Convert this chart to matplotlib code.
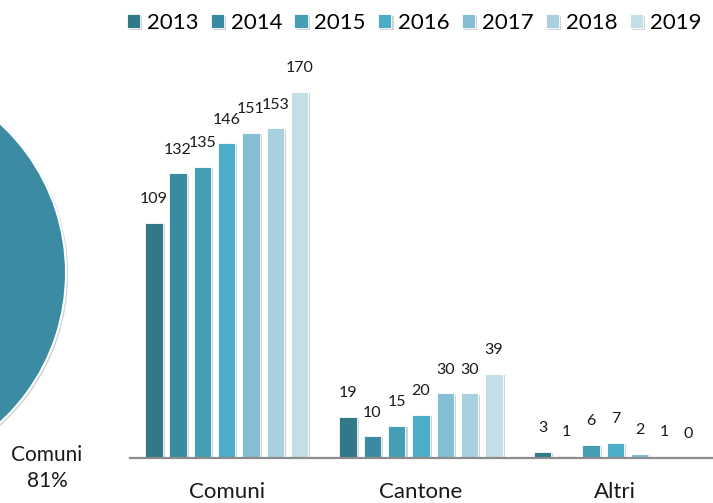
import numpy as np
import matplotlib
matplotlib.use('Agg')
import matplotlib.pyplot as plt
import matplotlib.patheffects as pe

plt.rcParams['font.family'] = ['Lato', 'DejaVu Sans']

# dati
anni = ['2013', '2014', '2015', '2016', '2017', '2018', '2019']
categorie = ['Comuni', 'Cantone', 'Altri']
comuni = [109, 132, 135, 146, 151, 153, 170]
cantone = [19, 10, 15, 20, 30, 30, 39]
altri = [3, 1, 6, 7, 2, 1, 0]

colori = ['#317888', '#3a8ba1', '#459eb5', '#4badc8', '#85bfd3', '#a9d0df', '#c4dee8']
colore_torta = '#3b8ca2'

fig = plt.figure(figsize=(7.13, 5.03), dpi=100)

ombra = [pe.SimplePatchShadow(offset=(1.5, -1), shadow_rgbFace='#7f7f7f', alpha=0.35), pe.Normal()]

# torta 2019 (tagliata a sinistra)
ax_pie = fig.add_axes([-340 / 713, 27 / 503, 406 / 713, 406 / 503])
valori_torta = [comuni[-1], cantone[-1], altri[-1]]
quota = valori_torta[0] / sum(valori_torta) * 100
start = -quota / 100 * 360 / 2
wedges, _ = ax_pie.pie(valori_torta, colors=[colore_torta, '#a9d0df', '#c4dee8'],
                       startangle=start, counterclock=True,
                       wedgeprops=dict(edgecolor='white', linewidth=1.5))
for w in wedges:
    w.set_path_effects(ombra)
ax_pie.set_xlim(-1, 1)
ax_pie.set_ylim(-1, 1)
ax_pie.set_aspect('equal')
ax_pie.axis('off')

fig.text(47 / 713, 1 - 468 / 503, f'{categorie[0]}\n{quota:.0f}%', ha='center', va='center',
         fontsize=15, linespacing=1.4, color='#1a1a1a')

# barre
ax = fig.add_axes([129.5 / 713, 45 / 503, 583 / 713, 388 / 503])
dati = np.array([comuni, cantone, altri])
x = np.arange(len(categorie))
passo = 0.125
larg = 0.09
for i, anno in enumerate(anni):
    pos = x + (i - 3) * passo
    barre = ax.bar(pos, dati[:, i], width=larg, color=colori[i], label=anno,
                   edgecolor='white', linewidth=0.6, zorder=2)
    for b in barre:
        b.set_path_effects(ombra)
    for px, v in zip(pos, dati[:, i]):
        ax.annotate(str(v), (px, v), xytext=(0, 17), textcoords='offset points',
                    ha='center', va='center', fontsize=11.5, color='#1a1a1a', annotation_clip=False)

ax.set_xlim(-0.5, 2.5)
ax.set_ylim(0, 180)
ax.set_xticks(x)
ax.set_xticklabels(categorie, fontsize=16, color='#1a1a1a')
ax.tick_params(axis='x', length=0, pad=17)
ax.set_yticks([])
for s in ['top', 'right', 'left']:
    ax.spines[s].set_visible(False)
ax.spines['bottom'].set_color('#8c8c8c')
ax.spines['bottom'].set_linewidth(1.6)
ax.spines['bottom'].set_zorder(5)
ax.patch.set_alpha(0)

fig.legend(*ax.get_legend_handles_labels(), loc='center left',
           bbox_to_anchor=(127 / 713, 1 - 23 / 503), ncol=7, frameon=False,
           fontsize=16, handlelength=0.6, handleheight=0.6, handletextpad=0.3,
           columnspacing=0.55, borderpad=0, borderaxespad=0)

fig.savefig('out.png', dpi=100)
